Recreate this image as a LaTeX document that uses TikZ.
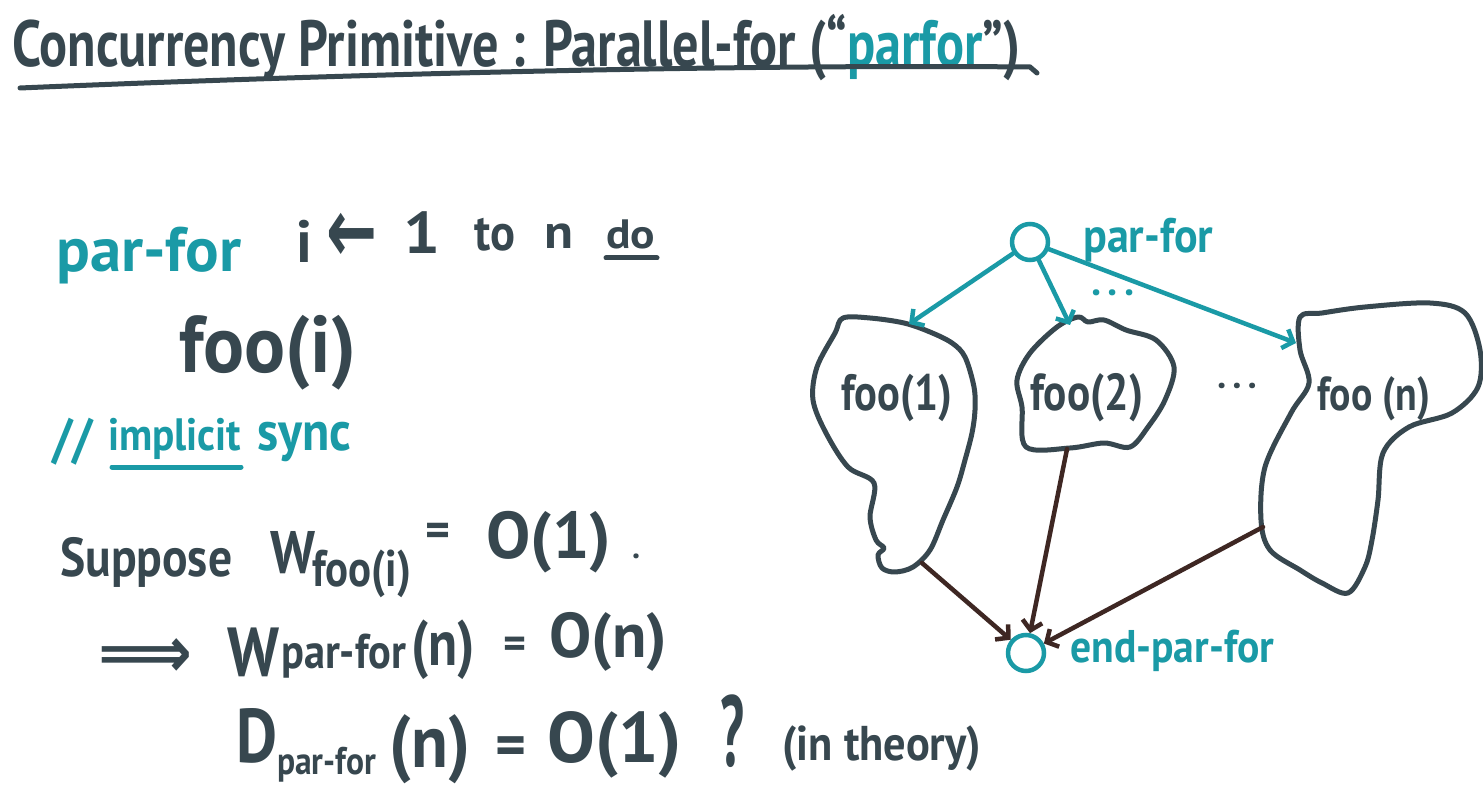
\documentclass[tikz,border=0pt]{standalone}
\usepackage{fontspec}
\usepackage{graphicx}
\setmainfont{PT Sans}
\newfontfamily\symfont{DejaVu Sans}
\usetikzlibrary{arrows.meta}
\definecolor{ink}{HTML}{37474F}
\definecolor{tealc}{HTML}{1A9AA6}
\definecolor{brownc}{HTML}{3E2723}
\newcommand\RB[3]{\resizebox{#1pt}{!}{\scalebox{1}[#2]{\bfseries #3}}}
\begin{document}
\begin{tikzpicture}[x=1pt,y=-1pt,
  txt/.style={inner sep=0pt, anchor=base west, text=ink},
  ttxt/.style={txt, text=tealc},
  ctr/.style={inner sep=0pt, anchor=center, text=ink},
  blob/.style={draw=ink, line width=5pt, line join=round},
  tarr/.style={draw=tealc, line width=4.5pt, line cap=round, -{Straight Barb[length=9pt,width=20pt,line width=4.5pt]}},
  barr/.style={draw=brownc, line width=4.5pt, line cap=round, -{Straight Barb[length=9pt,width=20pt,line width=4.5pt]}},
  ul/.style={draw=ink, line width=5pt, line cap=round},
  dotc/.style={circle, draw=tealc, line width=4.5pt, minimum size=36pt, inner sep=0pt}]
\useasboundingbox (0,0) rectangle (1483,810);
\fill[white] (0,0) rectangle (1483,810);

% title
\node[txt] (title) at (12,67) {\RB{1008}{1.25}{Concurrency Primitive : Parallel-for (“\textcolor{tealc}{parfor}”)}};
\draw[ul] (20,88) .. controls (300,76) and (700,64) .. (1030,67) -- (1037,73);

% par-for line
\node[ttxt] (pf) at (56,272) {\RB{185}{1.0}{par-for}};
\node[txt] (iv) at (296,262) {\RB{16}{1.0}{i}};
\node[ctr] (arr) at (352,238) {\RB{51}{1.5}{\symfont ←}};
\node[txt] (one) at (403,254) {\RB{37}{0.9}{1}};
\node[txt] (to) at (474,251) {\RB{41}{1.1}{to}};
\node[txt] (nn) at (544,249) {\RB{29}{0.9}{n}};
\node[txt] (do) at (606,249) {\RB{49}{0.9}{do}};
\draw[ul] (606,258) -- (657,258);

\node[txt] (fooi) at (179,372) {\RB{177}{1.05}{foo(i)}};

\node[ttxt] (sl) at (52,457) {\RB{41}{1.1}{//}};
\node[ttxt] (imp) at (108,450) {\RB{133}{1.1}{implicit}};
\node[ttxt] (sync) at (257,450) {\RB{94}{1.1}{sync}};
\draw[ul, draw=tealc] (112,467) -- (241,467);

% Suppose line
\node[txt] (sup) at (60,576) {\RB{172}{1.15}{Suppose}};
\node[txt] (w1) at (270,573) {\RB{45}{1.15}{W}};
\node[txt] (w1s) at (312,586) {\RB{99}{1.2}{foo(i)}};
\node[ctr] (eq1) at (438,535) {\RB{25}{1.0}{=}};
\node[txt] (o1) at (486,558) {\RB{125}{1.0}{O(1)}};
\node[txt] (pt) at (632,558) {\RB{8}{1.0}{.}};

% implies line
\node[ctr] (impl) at (145,658) {\RB{94}{1.1}{\symfont ⟹}};
\node[txt] (w2) at (227,676) {\RB{52}{1.15}{W}};
\node[txt] (w2s) at (281,668) {\RB{125}{1.15}{par-for}};
\node[txt] (n2) at (411,665) {\RB{64}{1.2}{(n)}};
\node[ctr] (eq2) at (515,648) {\RB{23}{1.0}{=}};
\node[txt] (on) at (549,657) {\RB{118}{1.0}{O(n)}};

% D line
\node[txt] (d) at (236,762) {\RB{41}{1.2}{D}};
\node[txt] (ds) at (277,774) {\RB{99}{1.15}{par-for}};
\node[txt] (n3) at (389,767) {\RB{81}{1.1}{(n)}};
\node[ctr] (eq3) at (511,751) {\RB{31}{1.0}{=}};
\node[txt] (o3) at (547,762) {\RB{135}{1.0}{O(1)}};
\node[txt] (q) at (720,766) {\RB{24}{1.9}{?}};
\node[txt] (th) at (782,760) {\RB{199}{1.1}{(in theory)}};

% diagram
\node[dotc] (s) at (1030,242) {};
\node[ttxt] (sl2) at (1083,253) {\RB{130}{1.1}{par-for}};
\node[dotc] (e) at (1026,653) {};
\node[ttxt] (el) at (1070,662) {\RB{204}{1.1}{end-par-for}};

\draw[blob] plot[smooth cycle, tension=0.55] coordinates {(843,318) (870,318) (904,323) (930,332) (952,343) (965,357) (974,387) (975,410) (972,433) (965,460) (957,487) (943,520) (930,550) (913,567) (895,572) (882,568) (878,555) (884,548) (876,540) (870,517) (874,483) (848,467) (826,433) (813,400) (817,367) (835,333)};
\draw[blob] plot[smooth cycle, tension=0.55] coordinates {(1057,327) (1078,317) (1088,322) (1104,320) (1126,330) (1156,340) (1174,367) (1165,400) (1148,427) (1130,447) (1104,443) (1070,448) (1026,447) (1022,407) (1017,380) (1030,353)};
\draw[blob] plot[smooth cycle, tension=0.55] coordinates {(1300,317) (1322,313) (1365,307) (1430,303) (1465,313) (1480,350) (1478,387) (1452,413) (1409,427) (1383,453) (1378,500) (1372,540) (1365,567) (1348,593) (1322,583) (1300,570) (1270,550) (1261,520) (1265,467) (1291,413) (1309,383) (1300,350)};

\node[txt] (f1) at (841,410) {\RB{111}{1.2}{foo(1)}};
\node[txt] (f2) at (1030,410) {\RB{113}{1.2}{foo(2)}};
\node[ctr] (dots) at (1237,390) {\RB{40}{1}{·\,·\,·}};
\node[txt] (fn) at (1317,410) {\RB{113}{1.2}{foo (n)}};
\node[ctr, text=tealc] (tdots) at (1113,298) {\RB{44}{1}{·\,·\,·}};

\coordinate (f1in) at (909,324);
\coordinate (f2in) at (1070,325);
\coordinate (fnin) at (1296,343);
\coordinate (f1out) at (922,563);
\coordinate (f2out) at (1067,449);
\coordinate (fnout) at (1263,527);

\draw[tarr] (s) -- (f1in);
\draw[tarr] (s) -- (f2in);
\draw[tarr] (s) -- (fnin);
\draw[barr] (f1out) -- (e);
\draw[barr] (f2out) -- (e);
\draw[barr] (fnout) -- (e);
\end{tikzpicture}
\end{document}
